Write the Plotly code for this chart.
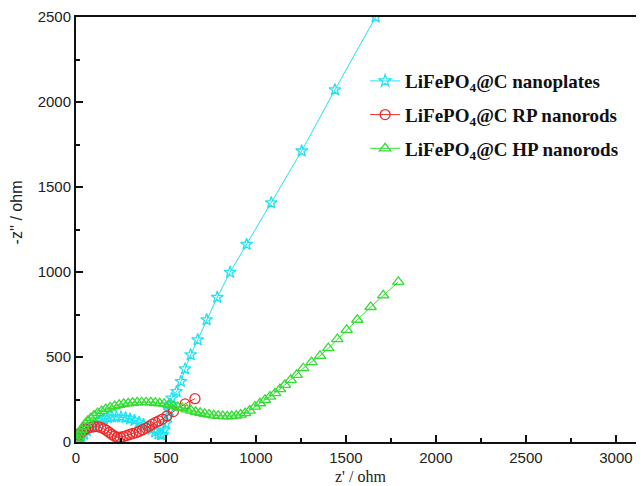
import plotly.graph_objects as go

# ---- data ----
plates_x = [15, 30, 45, 60, 78, 96, 115, 135, 155, 178, 200, 225, 250, 275, 300, 325,
            350, 375, 400, 420, 440, 458, 472, 482, 490, 500, 510, 518, 525, 532, 559,
            583, 606, 637, 676, 726, 785, 856, 948, 1085, 1254, 1439, 1665]
plates_y = [5, 25, 45, 65, 85, 100, 115, 127, 136, 143, 147, 148, 147, 143, 136, 127,
            116, 103, 88, 75, 60, 48, 42, 45, 70, 110, 150, 185, 220, 258, 297,
            356, 430, 513, 601, 719, 851, 998, 1162, 1407, 1712, 2072, 2500]

rp_x = [8, 15, 25, 38, 52, 68, 85, 102, 120, 138, 155, 170, 185, 200, 215, 230, 245,
        262, 280, 298, 316, 334, 352, 370, 388, 406, 424, 442, 460, 480, 505, 541,
        606, 661]
rp_y = [20, 40, 55, 65, 75, 82, 88, 90, 90, 86, 78, 68, 56, 44, 34, 28, 28,
        32, 38, 44, 50, 55, 63, 72, 82, 93, 105, 115, 124, 135, 153, 179,
        224, 255]

hp_x = [5, 10, 16, 22, 30, 40, 52, 66, 82, 100, 120, 142, 165, 190, 215, 240, 265,
        290, 315, 340, 365, 390, 415, 440, 465, 490, 515, 540, 565, 590, 615, 640,
        665, 690, 715, 740, 765, 790, 815, 840, 865, 890, 915, 940, 965, 994, 1022,
        1050, 1078, 1106, 1133, 1161, 1193, 1226, 1263, 1309, 1356, 1402, 1452,
        1504, 1563, 1637, 1707, 1791]
hp_y = [5, 20, 38, 55, 72, 90, 108, 125, 140, 155, 170, 182, 193, 203, 211, 218, 224,
        228, 231, 233, 234, 234, 233, 231, 228, 224, 219, 213, 206, 199, 192, 185,
        178, 172, 166, 161, 157, 154, 152, 151, 152, 155, 161, 170, 185, 208, 228,
        248, 267, 287, 311, 336, 366, 395, 434, 470, 507, 552, 605,
        660, 719, 794, 863, 942]

names = ["LiFePO<sub>4</sub>@C nanoplates",
         "LiFePO<sub>4</sub>@C RP nanorods",
         "LiFePO<sub>4</sub>@C HP nanorods"]
x_ticks = [0, 500, 1000, 1500, 2000, 2500, 3000]
y_ticks = [0, 500, 1000, 1500, 2000, 2500]

CYAN = "#22e2f2"
RED = "#ee2a2a"
GREEN = "#33dd33"

fig = go.Figure()
fig.add_trace(go.Scatter(x=plates_x, y=plates_y, name=names[0], legendgroup="a",
                         mode="lines+markers",
                         line=dict(color=CYAN, width=1),
                         marker=dict(symbol="star-open", size=9, color=CYAN,
                                     line=dict(width=1.3, color=CYAN))))
fig.add_trace(go.Scatter(x=rp_x, y=rp_y, name=names[1], legendgroup="b",
                         mode="lines+markers",
                         line=dict(color=RED, width=1),
                         marker=dict(symbol="circle-open", size=10, color=RED,
                                     line=dict(width=1.3, color=RED))))
fig.add_trace(go.Scatter(x=hp_x, y=hp_y, name=names[2], legendgroup="c",
                         mode="lines+markers",
                         line=dict(color=GREEN, width=1),
                         marker=dict(symbol="triangle-up-open", size=10, color=GREEN,
                                     line=dict(width=1.3, color=GREEN))))

axis_font = dict(family="Liberation Sans, Arial, sans-serif", size=15, color="#222")

# The page body adds an 8px margin, so the figure is 8px smaller than the window.
fig.update_layout(
    width=636, height=478,
    margin=dict(l=68, r=0, t=9, b=44),
    paper_bgcolor="white", plot_bgcolor="white",
    showlegend=True,
    legend=dict(x=0.509, y=0.894, xanchor="left", yanchor="top",
                bgcolor="rgba(0,0,0,0)", traceorder="grouped", tracegroupgap=6,
                font=dict(family="Liberation Serif, Times New Roman, serif", size=19,
                          color="#111", weight="bold")),
    xaxis=dict(range=[0, 3156], tickvals=x_ticks, ticks="inside", ticklen=7,
               tickwidth=1.5, tickcolor="#111", showline=True, linewidth=2,
               linecolor="#111", mirror=True, showgrid=False, zeroline=False,
               tickfont=axis_font, ticklabelstandoff=1,
               minor=dict(dtick=250, ticks="inside", ticklen=4, tickwidth=1.5,
                          tickcolor="#111", showgrid=False)),
    yaxis=dict(range=[0, 2500], tickvals=y_ticks, ticks="inside", ticklen=7,
               tickwidth=1.5, tickcolor="#111", showline=True, linewidth=2,
               linecolor="#111", mirror=False, showgrid=False, zeroline=False,
               tickfont=axis_font,
               minor=dict(dtick=250, ticks="inside", ticklen=4, tickwidth=1.5,
                          tickcolor="#111", showgrid=False)),
    annotations=[
        dict(text="z' / ohm", xref="paper", yref="paper", x=0.5, y=-0.081,
             xanchor="center", yanchor="middle", showarrow=False,
             font=dict(family="Liberation Serif, Times New Roman, serif", size=16,
                       color="#222")),
        dict(text="-z'' / ohm", xref="paper", yref="paper", x=-0.105, y=0.541,
             xanchor="center", yanchor="middle", showarrow=False, textangle=-90,
             font=dict(family="Liberation Sans, Arial, sans-serif", size=16,
                       color="#222")),
    ],
)

fig.write_html("out.html")
